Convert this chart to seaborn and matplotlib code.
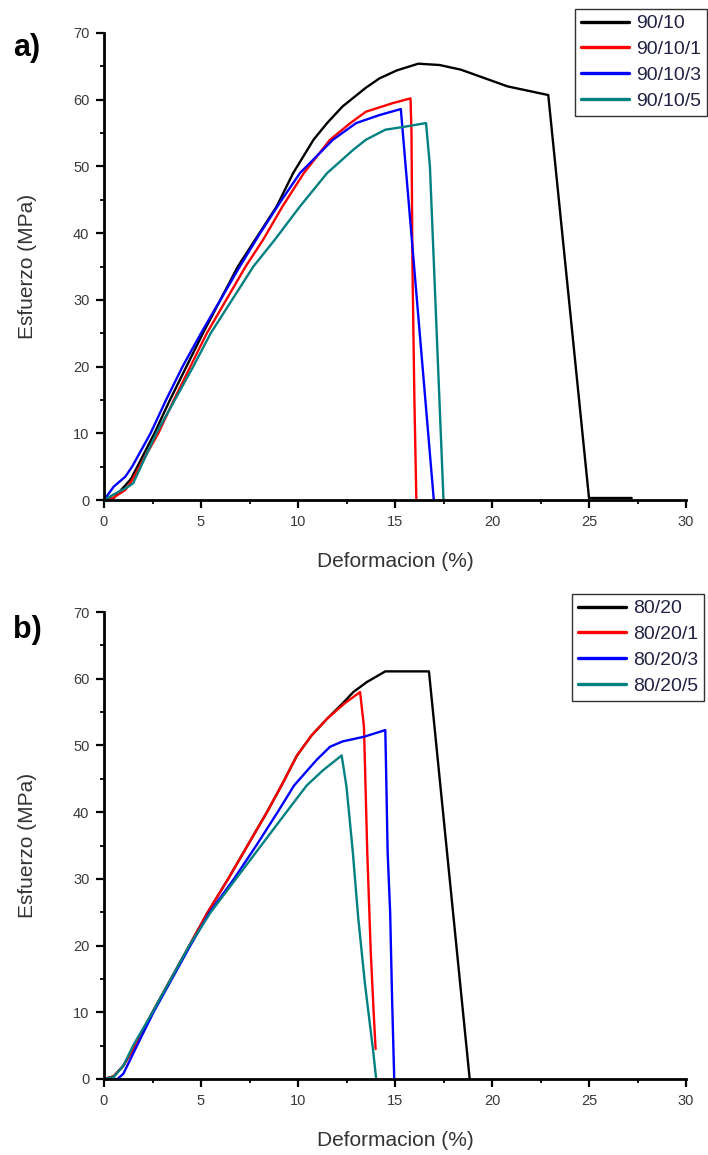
import numpy as np
import pandas as pd
import matplotlib
matplotlib.use("Agg")
import matplotlib.pyplot as plt
from matplotlib.ticker import MultipleLocator
import seaborn as sns

# ---------------- data ----------------
# Panel a) 90/10 series
a_labels = ["90/10", "90/10/1", "90/10/3", "90/10/5"]
a1_x = [0, 0.5, 1.1, 1.4, 2.6, 3.4, 4.25, 5.1, 6.0, 6.9, 7.9, 8.9, 9.75, 10.8, 11.5, 12.3, 13.5, 14.2, 15.1, 16.2, 17.3, 18.4, 20.8, 22.9, 25.0, 27.2]
a1_y = [0, 0.3, 2.2, 3.2, 10, 15, 20, 25, 30, 35, 39.5, 44, 49, 54, 56.5, 59, 61.8, 63.2, 64.4, 65.4, 65.2, 64.5, 62, 60.7, 0.3, 0.3]
a2_x = [0, 0.4, 1.1, 1.35, 2.8, 3.6, 4.45, 5.3, 6.3, 7.3, 8.2, 9.2, 10.3, 11.65, 12.7, 13.5, 14.9, 15.8, 15.85, 15.9, 16.0, 16.1]
a2_y = [0, 0.2, 1.5, 2.5, 10, 15, 20, 25, 30, 35, 39, 44, 49, 54, 56.5, 58.2, 59.5, 60.2, 55, 35, 15, 0]
a3_x = [0, 0.5, 1.1, 1.45, 2.4, 3.2, 4.05, 5.0, 6.0, 7.0, 8.05, 9.05, 10.1, 11.8, 13.0, 14.2, 15.3, 17.0]
a3_y = [0, 2.0, 3.5, 5, 10, 15, 20, 25, 30, 35, 40, 44.5, 49, 54, 56.5, 57.7, 58.6, 0]
a4_x = [0, 0.6, 1.2, 1.5, 1.9, 2.7, 3.65, 4.6, 5.5, 6.6, 7.7, 8.8, 10.1, 11.5, 12.85, 13.5, 14.5, 15.6, 16.6, 16.8, 17.5]
a4_y = [0, 1.0, 1.9, 2.5, 5, 10, 15, 20, 25, 30, 35, 39, 44, 49, 52.5, 54, 55.5, 56, 56.5, 50, 0]

# Panel b) 80/20 series
b_labels = ["80/20", "80/20/1", "80/20/3", "80/20/5"]
b1_x = [0, 0.5, 1.0, 1.6, 2.5, 3.45, 4.4, 5.35, 6.4, 7.4, 8.4, 9.15, 9.95, 10.7, 11.5, 12.3, 12.85, 13.55, 14.5, 16.75, 18.85]
b1_y = [0, 0.4, 2.0, 5, 10, 15, 20, 25, 30, 35, 40, 44, 48.5, 51.5, 54, 56.3, 58.0, 59.5, 61.1, 61.1, 0]
b2_x = [0, 0.5, 1.0, 1.6, 2.5, 3.45, 4.4, 5.35, 6.4, 7.4, 8.4, 9.15, 9.95, 10.7, 11.5, 12.4, 13.2, 13.4, 13.57, 13.75, 13.9, 14.0]
b2_y = [0, 0.4, 2.0, 5, 10, 15, 20, 25, 30, 35, 40, 44, 48.5, 51.5, 54, 56.3, 58, 52.8, 34, 19, 10, 4.5]
b3_x = [0, 0.7, 1.0, 1.2, 1.7, 2.55, 3.5, 4.45, 5.45, 6.7, 7.85, 8.95, 9.8, 10.95, 11.65, 12.3, 13.4, 14.5, 14.55, 14.62, 14.75, 14.85, 14.96]
b3_y = [0, 0.0, 0.8, 2, 5, 10, 15, 20, 25, 30, 35, 40, 44, 47.8, 49.8, 50.6, 51.3, 52.3, 45, 34, 25, 12, 0]
b4_x = [0, 0.5, 1.0, 1.5, 2.5, 3.45, 4.4, 5.5, 6.8, 8.1, 9.4, 10.45, 11.3, 12.25, 12.5, 12.82, 13.1, 13.45, 13.87, 14.03]
b4_y = [0, 0.3, 2.0, 5, 10, 15, 20, 25, 30, 35, 40, 44, 46.3, 48.5, 43.8, 34.2, 24.3, 14.3, 4.3, 0]

colors = ["#000000", "#FF0000", "#0000FF", "#008080"]
x_ticks = [0, 5, 10, 15, 20, 25, 30]
y_ticks = [0, 10, 20, 30, 40, 50, 60, 70]


def make_df(xs, ys, labels):
    frames = []
    for x, y, lab in zip(xs, ys, labels):
        frames.append(pd.DataFrame({"x": x, "y": y, "serie": lab}))
    return pd.concat(frames, ignore_index=True)


df_a = make_df([a1_x, a2_x, a3_x, a4_x], [a1_y, a2_y, a3_y, a4_y], a_labels)
df_b = make_df([b1_x, b2_x, b3_x, b4_x], [b1_y, b2_y, b3_y, b4_y], b_labels)

# ---------------- style ----------------
sns.set_style("ticks")
plt.rcParams["font.family"] = ["Liberation Sans", "DejaVu Sans"]

fig = plt.figure(figsize=(7.08, 11.55), dpi=100)
W, H = 708, 1155


def axes_px(left, top, right, bottom):
    return fig.add_axes([left / W, 1 - bottom / H, (right - left) / W, (bottom - top) / H])


ax_a = axes_px(104, 33, 686, 500)
ax_b = axes_px(104, 612, 686, 1079)

panels = [(ax_a, df_a, a_labels, "a)", 48, (575, 9)),
          (ax_b, df_b, b_labels, "b)", 630, (572, 594))]

for ax, df, labels, tag, tag_y, leg_pos in panels:
    sns.lineplot(data=df, x="x", y="y", hue="serie", hue_order=labels,
                 palette=colors, sort=False, estimator=None, units="serie",
                 linewidth=1.7, ax=ax, legend=True)
    ax.set_xlim(0, 30)
    ax.set_ylim(0, 70)
    ax.set_xticks(x_ticks)
    ax.set_yticks(y_ticks)
    ax.xaxis.set_minor_locator(MultipleLocator(2.5))
    ax.yaxis.set_minor_locator(MultipleLocator(5))
    for s in ["top", "right"]:
        ax.spines[s].set_visible(False)
    for s in ["left", "bottom"]:
        ax.spines[s].set_linewidth(2.0)
        ax.spines[s].set_color("black")
    ax.tick_params(axis="both", which="major", direction="out", length=5.5,
                   width=1.6, labelsize=10.5, labelcolor="#3a3a3a", pad=5, color="black")
    ax.tick_params(axis="both", which="minor", direction="out", length=3,
                   width=1.3, color="black")
    ax.set_xlabel("Deformacion (%)", fontsize=15, color="#333333", labelpad=17)
    ax.set_ylabel("Esfuerzo (MPa)", fontsize=15, color="#333333", labelpad=26)
    ax.set_facecolor("white")

    handles, labs = ax.get_legend_handles_labels()
    ax.legend_.remove()
    leg = fig.legend(handles, labs, loc="upper left",
                     bbox_to_anchor=(leg_pos[0] / W, 1 - leg_pos[1] / H),
                     bbox_transform=fig.transFigure,
                     frameon=True, fancybox=False, shadow=False,
                     fontsize=14, handlelength=2.5, handletextpad=0.35,
                     labelspacing=0.42, borderpad=0.3, borderaxespad=0)
    leg.get_frame().set_edgecolor("black")
    leg.get_frame().set_linewidth(1.0)
    for t in leg.get_texts():
        t.set_color("#222244")
    for l in leg.get_lines():
        l.set_linewidth(2.4)

    fig.text(27 / W, 1 - tag_y / H, tag, fontsize=22, fontweight="bold",
             ha="center", va="center", color="black")

fig.savefig("out.png", dpi=100, facecolor="white")
